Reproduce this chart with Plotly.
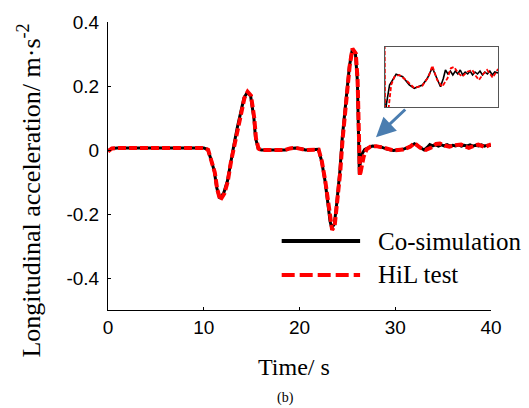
import plotly.graph_objects as go

# Co-simulation: longitudinal acceleration (m/s^2) vs time (s)
t_cosim = [0, 0.4, 1.0, 5.0, 10.0, 10.4, 10.7, 11.1, 11.35, 11.68, 12.1, 12.47,
           12.82, 13.16, 13.5, 13.85, 14.2, 14.54, 14.89, 15.23, 15.4, 15.68,
           16.0, 18.5, 19.0, 19.6, 20.2, 20.6, 21.97, 22.3, 22.66, 22.93, 23.18,
           23.35, 23.63, 23.87, 24.21, 24.46, 24.73, 25.0, 25.2, 25.49, 25.84,
           26.04, 26.11, 26.18, 26.24, 26.4, 26.8, 27.6, 28.4, 29.2, 29.8, 30.8,
           31.4, 32.0, 32.5, 33.0, 33.35, 33.6, 33.9, 34.2, 34.5, 34.8, 35.1,
           35.4, 35.7, 36.0, 36.3, 36.6, 36.9, 37.2, 37.5, 37.8, 38.1, 38.4,
           38.7, 39.0, 39.3, 39.6, 40.0]
a_cosim = [-0.003, 0.005, 0.006, 0.006, 0.006, 0.002, -0.024, -0.066, -0.118,
           -0.152, -0.133, -0.097, -0.034, 0.018, 0.07, 0.122, 0.163, 0.18,
           0.169, 0.101, 0.038, 0.005, 0.0, 0.0, 0.005, 0.006, 0.004, 0.0,
           0.002, -0.034, -0.097, -0.16, -0.222, -0.243, -0.232, -0.17, -0.066,
           0.038, 0.122, 0.205, 0.26, 0.312, 0.299, 0.216, 0.112, 0.028, -0.075,
           -0.018, 0.002, 0.0127, 0.0103, 0.002, -0.0013, 0.002, 0.0087, 0.0193,
           0.0103, 0.0003, 0.0087, 0.017, 0.013, 0.016, 0.012, 0.016, 0.013,
           0.017, 0.012, 0.015, 0.013, 0.016, 0.012, 0.015, 0.013, 0.016, 0.012,
           0.015, 0.013, 0.016, 0.012, 0.015, 0.014]

# HiL test: longitudinal acceleration (m/s^2) vs time (s)
t_hil = [0, 0.4, 1.0, 5.0, 10.0, 10.45, 10.75, 11.15, 11.4, 11.72, 12.15, 12.5,
         12.85, 13.2, 13.55, 13.9, 14.25, 14.58, 14.93, 15.27, 15.45, 15.72,
         16.0, 18.5, 19.0, 19.6, 20.2, 20.6, 22.0, 22.33, 22.7, 22.97, 23.22,
         23.4, 23.67, 23.9, 24.25, 24.5, 24.77, 25.03, 25.23, 25.52, 25.87,
         26.06, 26.14, 26.2, 26.3, 26.7, 27.0, 27.4, 28.0, 28.8, 29.8, 30.8,
         31.55, 32.0, 32.6, 33.2, 33.85, 34.25, 34.65, 35.15, 35.65, 36.25,
         36.86, 37.3, 37.67, 38.2, 38.67, 39.35, 40.0]
a_hil = [-0.004, 0.005, 0.006, 0.006, 0.006, 0.001, -0.026, -0.07, -0.122,
         -0.157, -0.136, -0.099, -0.035, 0.017, 0.069, 0.121, 0.163, 0.182,
         0.17, 0.1, 0.036, 0.004, 0.0, 0.0, 0.005, 0.007, 0.004, 0.0, 0.001,
         -0.036, -0.1, -0.164, -0.227, -0.25, -0.236, -0.172, -0.068, 0.036,
         0.12, 0.205, 0.262, 0.317, 0.302, 0.22, 0.115, 0.03, -0.08, -0.02,
         0.002, 0.0103, 0.012, 0.007, -0.001, 0.0013, 0.0103, 0.0213, 0.007,
         0.0003, 0.0087, 0.0187, 0.02, 0.014, 0.0103, 0.0153, 0.017, 0.011,
         0.007, 0.013, 0.017, 0.0093, 0.018]

x_ticks = [0, 10, 20, 30, 40]
y_ticks = [-0.4, -0.2, 0, 0.2, 0.4]
y_tick_text = ["-0.4", "-0.2", "0", "0.2", "0.4"]
series_names = ["Co-simulation", "HiL test"]

W, H = 529, 408
ML, MR, MT, MB = 108, 20, 22, 98
PW, PH = W - ML - MR, H - MT - MB


def px(x):
    return (x - ML) / PW


def py(y):
    return (H - MB - y) / PH


BLACK = "#000000"
RED = "#ff0000"
SERIF = "Liberation Serif, Times New Roman, serif"
SANS = "Liberation Sans, Arial, sans-serif"

fig = go.Figure()

# main curves
fig.add_trace(go.Scatter(x=t_cosim, y=a_cosim, mode="lines", name=series_names[0],
                         line=dict(color=BLACK, width=3), showlegend=False))
fig.add_trace(go.Scatter(x=t_hil, y=a_hil, mode="lines", name=series_names[1],
                         line=dict(color=RED, width=4, dash="8px,3px"),
                         showlegend=False))

# zoomed inset of the settling oscillation
fig.add_trace(go.Scatter(x=t_cosim, y=a_cosim, mode="lines", xaxis="x2", yaxis="y2",
                         line=dict(color=BLACK, width=1.6), showlegend=False))
fig.add_trace(go.Scatter(x=t_hil, y=a_hil, mode="lines", xaxis="x2", yaxis="y2",
                         line=dict(color=RED, width=1.8, dash="4px,2px"),
                         showlegend=False))

axis_common = dict(showgrid=False, zeroline=False, showline=True, linecolor=BLACK,
                   linewidth=1, ticks="inside", ticklen=3, tickwidth=1,
                   tickcolor=BLACK, tickfont=dict(family=SANS, size=19, color=BLACK))

fig.update_layout(
    width=W, height=H,
    margin=dict(l=ML, r=MR, t=MT, b=MB, pad=0),
    paper_bgcolor="white", plot_bgcolor="white",
    xaxis=dict(range=[0, 40], domain=[0, (494 - ML) / PW], tickvals=x_ticks,
               mirror=False, **axis_common),
    yaxis=dict(range=[-0.5, 0.4], domain=[0, 1], tickvals=y_ticks,
               ticktext=y_tick_text, mirror=False, ticklabelstandoff=4,
               **axis_common),
    xaxis2=dict(range=[26.2, 40], domain=[px(386.7), px(501)], anchor="y2",
                showline=True, mirror=True, linecolor="#555555", linewidth=1,
                showgrid=False, zeroline=False, showticklabels=False, ticks=""),
    yaxis2=dict(range=[-0.02, 0.04], domain=[py(107), py(47)], anchor="x2",
                showline=True, mirror=True, linecolor="#555555", linewidth=1,
                showgrid=False, zeroline=False, showticklabels=False, ticks=""),
)

annotations = [
    # arrow pointing from the inset to the settling region
    dict(x=27.98, y=0.04, ax=31.19, ay=0.131, xref="x", yref="y",
         axref="x", ayref="y", text="", showarrow=True, arrowhead=2,
         arrowsize=1.3, arrowwidth=3, arrowcolor="#4a7db0", standoff=0),
    # axis titles
    dict(x=px(28), y=py(191), xref="paper", yref="paper",
         text="Longitudinal acceleration/ m·s<sup>-2</sup>", textangle=-90,
         showarrow=False, xanchor="center", yanchor="middle",
         font=dict(family=SERIF, size=26, color=BLACK)),
    dict(x=px(295), y=py(367), xref="paper", yref="paper", text="Time/ s",
         showarrow=False, xanchor="center", yanchor="middle",
         font=dict(family=SERIF, size=24, color=BLACK)),
    dict(x=px(287), y=py(398), xref="paper", yref="paper", text="(b)",
         showarrow=False, xanchor="center", yanchor="middle",
         font=dict(family=SERIF, size=14, color=BLACK)),
    # legend labels
    dict(x=px(378), y=py(241), xref="paper", yref="paper", text=series_names[0],
         showarrow=False, xanchor="left", yanchor="middle",
         font=dict(family=SERIF, size=25, color=BLACK)),
    dict(x=px(378), y=py(274), xref="paper", yref="paper", text=series_names[1],
         showarrow=False, xanchor="left", yanchor="middle",
         font=dict(family=SERIF, size=25, color=BLACK)),
]

shapes = [
    dict(type="line", xref="paper", yref="paper", x0=px(283), x1=px(362),
         y0=py(241), y1=py(241), line=dict(color=BLACK, width=4)),
    dict(type="line", xref="paper", yref="paper", x0=px(283), x1=px(362),
         y0=py(275), y1=py(275), line=dict(color=RED, width=4, dash="13px,5px")),
]

fig.update_layout(annotations=annotations, shapes=shapes)

fig.write_html("out.html")
